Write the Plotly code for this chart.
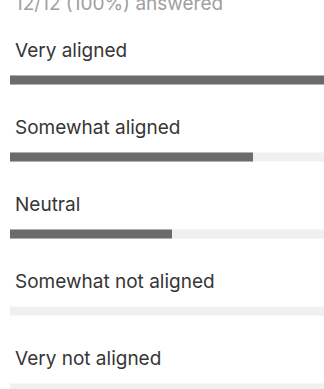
import plotly.graph_objects as go

categories = ["Very aligned", "Somewhat aligned", "Neutral", "Somewhat not aligned", "Very not aligned"]
counts = [7, 3, 2, 0, 0]
total_responses = 12
answered = 12
header = f"{answered}/{total_responses} ({round(100*answered/total_responses)}%) answered"

FONT = "Inter"
W, H = 324, 389
ROW_PX = 77
FIRST_ROW_PX = 80
BAR_PX = 9
LEFT = 10
UNIT_PX = 81  # pixels per response

plot_w = W - LEFT
y_span = H / ROW_PX
y0 = -FIRST_ROW_PX / ROW_PX
ypos = list(range(len(categories)))
bar_w = BAR_PX / ROW_PX

fig = go.Figure()
fig.add_trace(go.Bar(
    x=[total_responses] * len(categories), y=ypos, orientation="h",
    width=bar_w, marker=dict(color="#f0f0f0", cornerradius=4, line=dict(width=0)),
    hoverinfo="skip", showlegend=False,
))
fig.add_trace(go.Bar(
    x=counts, y=ypos, orientation="h",
    width=bar_w, marker=dict(color="#6b6b6b", cornerradius=4, line=dict(width=0)),
    showlegend=False,
))

for i, c in enumerate(categories):
    fig.add_annotation(
        x=0, xref="paper", y=i, yref="y", text=c, showarrow=False,
        xanchor="left", yanchor="middle", xshift=3, yshift=30,
        font=dict(family=FONT, size=19, color="#363636"),
    )

fig.add_annotation(
    x=0, xref="paper", y=1, yref="paper", text=header, showarrow=False,
    xanchor="left", yanchor="middle", xshift=3, yshift=-3,
    font=dict(family=FONT, size=19, color="#a0a0a0"),
)

fig.update_layout(
    width=W, height=H, barmode="overlay",
    margin=dict(l=LEFT, r=0, t=0, b=0),
    paper_bgcolor="white", plot_bgcolor="white",
    xaxis=dict(range=[0, plot_w / UNIT_PX], visible=False, fixedrange=True),
    yaxis=dict(range=[y0 + y_span, y0], visible=False, fixedrange=True),
    showlegend=False,
)
fig.write_html("out.html", config={"displayModeBar": False})
